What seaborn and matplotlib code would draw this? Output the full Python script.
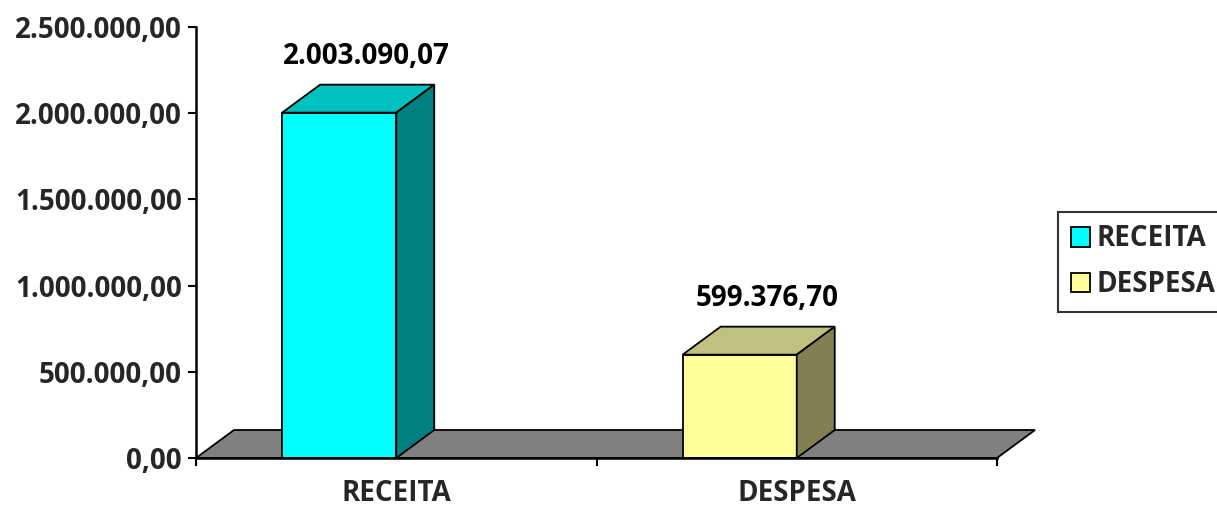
import matplotlib
matplotlib.use("Agg")
import matplotlib.pyplot as plt
import seaborn as sns
from matplotlib.patches import Polygon, Patch
from matplotlib.ticker import FuncFormatter, FixedLocator

categories = ["RECEITA", "DESPESA"]
values = [2003090.07, 599376.70]
front_colors = ["#00FFFF", "#FFFF99"]
top_colors = ["#00C0C0", "#C0C080"]
side_colors = ["#008080", "#808050"]
floor_color = "#808080"

def br(v):
    s = f"{v:,.2f}"
    return s.replace(",", "X").replace(".", ",").replace("X", ".")

sns.set_theme(style="white")
plt.rcParams["font.family"] = ["Open Sans", "DejaVu Sans"]
plt.rcParams["font.weight"] = "bold"
FS = 20

W, H = 1217, 507
fig = plt.figure(figsize=(W / 100, H / 100), dpi=100)
ax = fig.add_axes([196 / W, 1 - 458 / H, (997 - 196) / W, (458 - 27) / H])

bar_w = 0.285
sns.barplot(x=categories, y=values, hue=categories, palette=front_colors,
            width=bar_w, legend=False, ax=ax, edgecolor="black",
            linewidth=1.3, zorder=4, saturation=1)
ax.set_xlim(-0.5, 1.5)
ax.set_ylim(0, 2500000)

# depth in data units (38 px right, 28 px up)
fig.canvas.draw()
inv = ax.transData.inverted()
p0 = inv.transform(ax.transData.transform((0, 0)))
px0 = ax.transData.transform((0, 0))
p1 = inv.transform((px0[0] + 38, px0[1] + 28))
dx = p1[0] - p0[0]
dy = p1[1] - p0[1]

bars = list(ax.patches)

# floor
x0, x1 = ax.get_xlim()
floor = Polygon([(x0, 0), (x0 + dx, dy), (x1 + dx, dy), (x1, 0)], closed=True,
                facecolor=floor_color, edgecolor="black", linewidth=1.3,
                zorder=1, clip_on=False)
ax.add_patch(floor)

for i, p in enumerate(bars):
    p.set_x(p.get_x() - bar_w / 2)
    l = p.get_x()
    r = l + p.get_width()
    h = p.get_height()
    top = Polygon([(l, h), (l + dx, h + dy), (r + dx, h + dy), (r, h)], closed=True,
                  facecolor=top_colors[i], edgecolor="black", linewidth=1.3,
                  zorder=4, clip_on=False)
    side = Polygon([(r, 0), (r, h), (r + dx, h + dy), (r + dx, dy)], closed=True,
                   facecolor=side_colors[i], edgecolor="black", linewidth=1.3,
                   zorder=4, clip_on=False)
    ax.add_patch(top)
    ax.add_patch(side)
    ax.text((l + r + dx) / 2 + 0.02, h + dy + 80000, br(values[i]), ha="center",
            va="bottom", fontsize=FS, fontweight="bold", color="black")

ax.yaxis.set_major_locator(FixedLocator([0, 500000, 1000000, 1500000, 2000000, 2500000]))
ax.yaxis.set_major_formatter(FuncFormatter(lambda v, pos: br(v)))
ax.set_xticks([0, 1])
ax.set_xticklabels(categories)
ax.xaxis.set_minor_locator(FixedLocator([-0.5, 0.5, 1.5]))
ax.tick_params(axis="x", which="major", length=0, pad=15, labelsize=FS)
ax.tick_params(axis="x", which="minor", length=6, width=1.5, direction="out",
               bottom=True, color="black")
ax.tick_params(axis="y", length=6, width=1.5, direction="out", left=True,
               pad=4, labelsize=FS, color="black")
for lab in ax.get_xticklabels() + ax.get_yticklabels():
    lab.set_fontweight("bold")
ax.set_xlabel("")
ax.set_ylabel("")
for s in ["top", "right"]:
    ax.spines[s].set_visible(False)
for s in ["left", "bottom"]:
    ax.spines[s].set_color("black")
    ax.spines[s].set_linewidth(1.8)
    ax.spines[s].set_zorder(5)
ax.set_facecolor("white")

handles = [Patch(facecolor=c, edgecolor="black", linewidth=1.3) for c in front_colors]
leg = fig.legend(handles, categories, loc="upper left",
                 bbox_to_anchor=(1058 / W, 1 - 212 / H), frameon=True,
                 fancybox=False, edgecolor="black",
                 prop={"family": ["Open Sans"], "weight": "bold", "size": FS},
                 handlelength=0.7, handleheight=0.7, handletextpad=0.25,
                 labelspacing=0.6, borderpad=0.45, borderaxespad=0)
leg.get_frame().set_linewidth(1.5)

fig.savefig("out.png", dpi=100, facecolor="white")
